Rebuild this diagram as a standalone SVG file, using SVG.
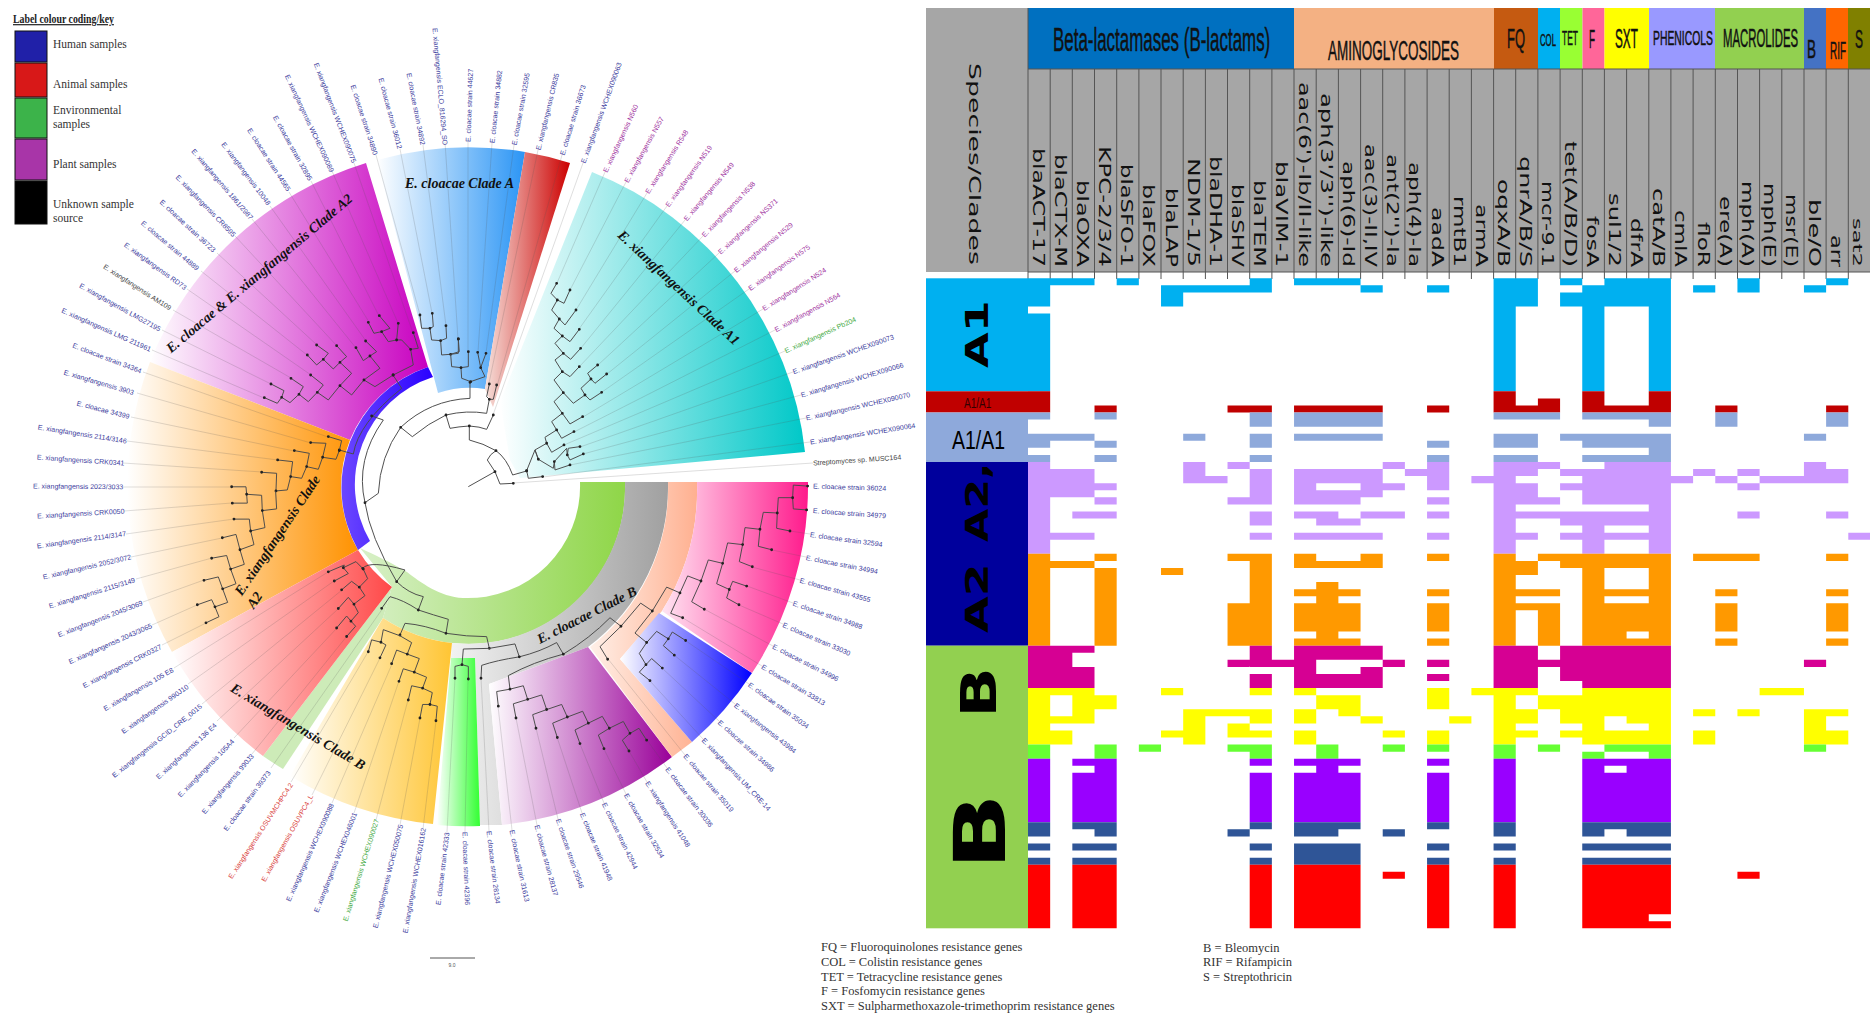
<svg xmlns="http://www.w3.org/2000/svg" width="1870" height="1013" viewBox="0 0 1870 1013">
<style>
.l{font:7px "Liberation Sans",Arial,sans-serif;dominant-baseline:central;fill:#3a3a9c}
.p{fill:#a033a0}.gr{fill:#44aa44}.rd{fill:#d9403a}.k{fill:#444}
.c{font:bold italic 14px "Liberation Serif",serif;dominant-baseline:central;fill:#111}
.t{fill:none;stroke:#4a4a4a;stroke-width:2.9;stroke-linejoin:round}
.d{fill:none;stroke:#222;stroke-width:8.5;stroke-linecap:round}
.lv{fill:none;stroke:#555;stroke-width:.6;opacity:.32}
.lg{font:11.5px "Liberation Serif",serif;fill:#333}
.n{font:12.5px "Liberation Serif",serif;fill:#333}
.h{font-family:"Liberation Sans",sans-serif;fill:#111;stroke:#111;stroke-width:.5}
.g{font:15px "DejaVu Sans",sans-serif;fill:#111}
.b{font:bold 32px "DejaVu Sans",sans-serif;fill:#000}
</style>
<defs>
<linearGradient id="gPur"><stop offset="0" stop-color="#fff"/><stop offset="1" stop-color="#c800c0"/></linearGradient>
<linearGradient id="gOr"><stop offset="0" stop-color="#fff"/><stop offset="1" stop-color="#ff9200"/></linearGradient>
<linearGradient id="gRing"><stop offset="0" stop-color="#6b47ff"/><stop offset="1" stop-color="#2a00ff"/></linearGradient>
<linearGradient id="gRed"><stop offset="0" stop-color="#fff"/><stop offset="1" stop-color="#ff4848"/></linearGradient>
<linearGradient id="gYel"><stop offset="0" stop-color="#fff"/><stop offset="1" stop-color="#ffc533"/></linearGradient>
<linearGradient id="gGrn"><stop offset="0" stop-color="#d8f0c8"/><stop offset="1" stop-color="#8fd648"/></linearGradient>
<linearGradient id="gGry"><stop offset="0" stop-color="#f2f2f2"/><stop offset="1" stop-color="#a0a0a0"/></linearGradient>
<linearGradient id="gPu2"><stop offset="0" stop-color="#fff"/><stop offset="1" stop-color="#990099"/></linearGradient>
<linearGradient id="gSal"><stop offset="0" stop-color="#fff0e8"/><stop offset="1" stop-color="#ffb090"/></linearGradient>
<linearGradient id="gBlu"><stop offset="0" stop-color="#fff"/><stop offset="1" stop-color="#0000ff"/></linearGradient>
<linearGradient id="gPnk"><stop offset="0" stop-color="#ffe4f2"/><stop offset="1" stop-color="#ff1a8c"/></linearGradient>
<linearGradient id="gStr"><stop offset="0" stop-color="#fff"/><stop offset="1" stop-color="#33ff33"/></linearGradient>
<linearGradient id="gCA"><stop offset="0" stop-color="#fff"/><stop offset="1" stop-color="#2b95f5"/></linearGradient>
<linearGradient id="gRd2"><stop offset="0" stop-color="#f6e0da"/><stop offset="1" stop-color="#cc0000"/></linearGradient>
<linearGradient id="gTeal"><stop offset="0" stop-color="#fff"/><stop offset="1" stop-color="#00c8c8"/></linearGradient>
</defs>
<rect width="1870" height="1013" fill="#fff"/>
<g id="key">
<text transform="translate(13,23) scale(.82,1)" font-family="Liberation Serif,serif" font-weight="bold" font-size="12" fill="#222" text-decoration="underline">Label colour coding/key</text>
<g stroke="#111"><rect x="15" y="31" width="32" height="31" fill="#2020a8"/><rect x="15" y="63" width="32" height="34" fill="#d81818"/><rect x="15" y="98" width="32" height="40" fill="#3cb34a"/><rect x="15" y="139" width="32" height="41" fill="#a835a8"/><rect x="15" y="181" width="32" height="43" fill="#000"/></g>
<text class="lg" x="53" y="48">Human samples</text><text class="lg" x="53" y="88">Animal samples</text><text class="lg" x="53" y="114">Environmental</text><text class="lg" x="53" y="128">samples</text><text class="lg" x="53" y="168">Plant samples</text><text class="lg" x="53" y="208">Unknown sample</text><text class="lg" x="53" y="222">source</text>
</g>
<g id="clade-ranges">
<path fill="url(#gGrn)" d="M580,482A112,112 0 0 1 463,598C440,597 420,582 407,572C390,562 375,555 360,548L392,587L383,618A156,156 0 0 0 625,482Z"/>
<path fill="#cdebb8" d="M263,756A340,340 0 0 0 283,769L383,618L392,587Z"/>
<path fill="url(#gGry)" d="M625,482L668,482A200,200 0 0 1 588,647L489,684L502,825L480,825L475,658L451,658L452,643A157,157 0 0 0 625,482Z"/>
<path id="clade-A2-mixed" fill="url(#gPur)" d="M366,163A340,340 0 0 0 150,362L350,440A127,127 0 0 1 428,367Z"/>
<path id="clade-A2" fill="url(#gOr)" d="M150,362A340,340 0 0 0 172,652L358,550A127,127 0 0 1 350,440Z"/>
<path fill="url(#gRing)" d="M428,367A127,127 0 0 0 358,550L370,541A113,113 0 0 1 433,377Z"/>
<path id="clade-xB-red" fill="url(#gRed)" d="M172,652A340,340 0 0 0 263,756L392,587A126,126 0 0 1 358,550Z"/>
<path id="clade-xB-yellow" fill="url(#gYel)" d="M290,776A340,340 0 0 0 433,824L452,643A157,157 0 0 1 383,618Z"/>
<path fill="url(#gStr)" d="M451,658L475,658L480,826A340,340 0 0 1 437,825Z"/>
<path id="clade-cB-purple" fill="url(#gPu2)" d="M588,647L489,684L502,825A340,340 0 0 0 672,757Z"/>
<path fill="url(#gSal)" d="M668,482L697,482A229,229 0 0 1 662,611L620,659L692,742L672,757L590,647A200,200 0 0 0 668,482Z"/>
<path fill="url(#gBlu)" d="M620,659L659,613L752,673A340,340 0 0 1 692,742Z"/>
<path fill="url(#gPnk)" d="M697,482L808,482A340,340 0 0 1 752,673L662,611A229,229 0 0 0 697,482Z"/>
<path id="clade-cA" fill="url(#gCA)" d="M377,160A340,340 0 0 1 525,152L485,389A99,99 0 0 0 438,393Z"/>
<path fill="url(#gRd2)" d="M525,152A340,340 0 0 1 570,163L493,407L485,389Z"/>
<path id="clade-A1" fill="url(#gTeal)" d="M592,172A340,340 0 0 1 805,452L520,478L510,460L500,402Z"/>
</g>
<g id="connectors">
<path class="lv" d="M143,372L328,437M137,393L311,443M131,417L294,451M127,441L278,460M123,463L262,472M123,487L232,487M124,511L232,503M126,534L234,519M131,557L222,538M136,579L212,558M143,602L204,580M152,625L197,605M162,645L206,623M152,350L264,398M162,330L271,384M173,310L291,378M187,289L311,375M201,271L307,355M217,253L317,345M235,236L337,346M252,219L356,348M270,206L366,341M289,192L369,322M311,181L379,316M332,171L398,323M354,163L413,333M376,155L420,315M400,149L432,313M423,145L446,326M445,142L458,339M468,142L468,352M492,143L478,352M514,145L486,353M538,150L489,383M562,155L497,386M583,163L493,415M605,172L557,283M626,182L570,290M647,193L576,310M667,206L579,329M685,220L581,348M703,236L579,367M719,253L598,365M735,271L607,374M749,289L602,392M763,309L583,417M775,330L574,432M785,351L564,445M793,372L580,447M801,395L583,454M806,418L570,465M810,442L543,477M813,463L513,483M810,534L790,531M806,557L772,550M800,580L752,567M793,603L747,586M783,624L739,605M773,646L704,609M762,666L683,618M749,684L686,641M735,704L674,655M719,721L662,668M703,739L650,681M685,755L608,659M667,768L647,740M647,782L629,751M626,794L604,749M604,803L580,744M582,813L557,737M558,819L536,728M537,825L516,718M512,830L498,706M489,831L481,678M465,832L468,679M447,832L455,678M423,829L436,721M400,825L420,718M376,820L408,700M354,813L399,681M332,803L392,664M312,795L380,658M291,782L368,652M271,768L383,608M252,754L347,636M234,738L337,628M217,721L338,609M202,704L342,590M188,684L334,581M174,668L328,572"/>
<g id="tree-centre" transform="translate(330,380) scale(.3333)">
<path class="t" d="M415,320L495,275M495,275L472,240Q480,222 498,212M495,275L510,312L550,310M498,212Q530,235 548,285L590,273M498,212Q460,190 418,180L418,138M418,138Q450,140 470,148L490,105M418,138Q385,140 360,145L348,105M348,105Q410,90 470,100L478,58M478,58L470,50L478,12M478,58L490,58L500,15M348,105Q295,130 247,170L212,142M212,142Q300,60 420,55L420,7M212,142Q150,230 145,340L105,368M105,368Q75,240 160,120L125,108M28,210L70,222Q85,130 215,25L189,-15M105,368Q120,470 200,605M98,565Q120,540 225,570L200,605M200,605Q235,640 280,650L265,690M265,690Q220,660 180,650L155,685M265,690Q310,705 355,718L348,760M348,760Q285,735 225,730L210,765M348,760Q410,770 470,770L478,805"/>
<path class="d" d="M495,275h0M498,212h0M550,310h0M590,273h0M418,138h0M348,105h0M490,105h0M478,58h0M478,12h0M500,15h0M212,142h0M420,7h0M105,368h0M125,108h0M28,210h0M189,-15h0M200,605h0M98,565h0M265,690h0M155,685h0M348,760h0M210,765h0M478,805h0"/>
</g>
<g id="tree-upper-left" transform="scale(.3333)">
<path class="t" d="M985,1310L1025,1322L1018,1352M1018,1352L1008,1378L968,1372M968,1372L978,1330L932,1328M968,1372L955,1408L920,1400M920,1400L928,1360L883,1352M920,1400L905,1435L872,1430M872,1430L878,1385L833,1380M872,1430L862,1470L828,1473M828,1473L830,1420L785,1417M1180,1125L1240,1095L1232,1048M1232,1048L1255,1045L1240,998M1232,1048L1205,1020L1190,1020M1190,1020L1195,970M1190,1020L1165,1025L1145,995M1145,995L1170,985L1138,947M1145,995L1122,1000L1105,967M1180,1125L1125,1160L1092,1140M1092,1140L1140,1105L1110,1068M1110,1068L1130,1055L1097,1023M1110,1068L1090,1082L1068,1043M1092,1140L1055,1185L1020,1157M1020,1157L1055,1120L1020,1087M1020,1087L1040,1070L1010,1037M1020,1087L1000,1107L970,1078M970,1078L985,1060L950,1035M970,1078L950,1095L922,1065M1020,1157L985,1200L952,1177M952,1177L970,1155L932,1125M952,1177L925,1205L897,1183M897,1183L910,1160L873,1135M897,1183L870,1208L845,1192M845,1192L852,1172L813,1152M845,1192L832,1210L793,1193M1352,1063L1378,1055L1375,1017M1352,1063L1325,1065L1322,1022M1322,1022L1340,1015L1338,977M1322,1022L1295,1020L1290,985M1290,985L1300,980L1297,940M1290,985L1265,985L1260,945"/>
<path class="d" d="M985,1310h0M1018,1352h0M968,1372h0M932,1328h0M920,1400h0M883,1352h0M872,1430h0M833,1380h0M828,1473h0M785,1417h0M1180,1125h0M1232,1048h0M1240,998h0M1190,1020h0M1195,970h0M1145,995h0M1138,947h0M1105,967h0M1092,1140h0M1110,1068h0M1097,1023h0M1068,1043h0M1020,1157h0M1020,1087h0M1010,1037h0M970,1078h0M950,1035h0M922,1065h0M952,1177h0M932,1125h0M897,1183h0M873,1135h0M845,1192h0M813,1152h0M793,1193h0M1352,1063h0M1375,1017h0M1322,1022h0M1338,977h0M1290,985h0M1297,940h0M1260,945h0"/>
</g>
<g id="tree-upper-right" transform="translate(450,0) scale(.3333)">
<path class="t" d="M62,1145L105,1130L92,1103M92,1103L108,1060M92,1103L83,1057M62,1145L35,1135L33,1103M33,1103L55,1100L55,1055M33,1103L5,1100L2,1063M2,1063L25,1060L25,1017M230,1412L235,1435L278,1430M230,1412L255,1350L265,1378M265,1378L310,1405L313,1385M313,1385L315,1410L360,1395M313,1385L350,1345L352,1365M352,1365L355,1345L390,1340M352,1365L360,1380L400,1362M265,1378L255,1350L290,1330M290,1330L305,1357L342,1335M290,1330L285,1312L320,1290M320,1290L335,1315L372,1295M320,1290L305,1265L337,1240M337,1240L360,1272L398,1250M337,1240L312,1205L340,1178M340,1178L370,1210L405,1185M405,1185L420,1200L455,1177M405,1185L393,1165L423,1137M423,1137L435,1150L470,1122M423,1137L413,1120L443,1095M340,1178L312,1140L337,1115M337,1115L360,1130L388,1100M337,1115L315,1080L340,1060M340,1060L362,1078L392,1045M340,1060L315,1030L337,1008M337,1008L360,1025L388,988M337,1008L312,985L328,957M328,957L345,975L378,930M328,957L305,930L322,900M322,900L342,910L360,870M322,900L303,880L320,850"/>
<path class="d" d="M62,1145h0M92,1103h0M108,1060h0M83,1057h0M33,1103h0M55,1055h0M25,1017h0M230,1412h0M278,1430h0M265,1378h0M313,1385h0M360,1395h0M352,1365h0M390,1340h0M400,1362h0M290,1330h0M342,1335h0M320,1290h0M372,1295h0M337,1240h0M398,1250h0M340,1178h0M405,1185h0M455,1177h0M423,1137h0M470,1122h0M443,1095h0M337,1115h0M388,1100h0M340,1060h0M392,1045h0M337,1008h0M388,988h0M328,957h0M378,930h0M322,900h0M360,870h0M320,850h0"/>
</g>
<g id="tree-lower-left" transform="translate(0,480) scale(.3333,.3401)">
<path class="t" d="M827,33L830,85L787,90M787,90L785,45L740,42M740,42L738,20L695,20M740,42L742,68L697,68M787,90L795,140L752,150M752,150L748,115L702,115M752,150L762,190L720,205M720,205L708,160L667,170M720,205L733,248L692,262M692,262L680,222L635,230M692,262L708,305L668,320M668,320L655,285L612,295M668,320L683,360L645,373M645,373L635,352L592,367M645,373L657,402L618,420M1090,262L1068,240L1030,258M1030,258L1033,250L985,270M1030,258L1045,275L1003,297M1090,262L1103,290L1078,315M1078,315L1055,298L1025,323M1078,315L1095,340L1062,365M1062,365L1045,345L1015,378M1062,365L1075,390L1053,415M1053,415L1040,400L1010,435M1053,415L1067,430L1040,460M1200,458L1150,440L1143,477M1143,477L1115,470L1105,505M1143,477L1158,485L1140,523M1200,458L1235,478L1222,512M1222,512L1190,500L1175,540M1222,512L1258,525L1243,565M1243,565L1210,555L1197,592M1243,565L1280,580L1268,612M1268,612L1235,605L1225,647M1268,612L1297,625L1290,660M1290,660L1268,660L1260,700M1290,660L1312,665L1308,708"/>
<path class="d" d="M787,90h0M740,42h0M695,20h0M697,68h0M752,150h0M702,115h0M720,205h0M667,170h0M692,262h0M635,230h0M668,320h0M612,295h0M645,373h0M592,367h0M618,420h0M1090,262h0M1030,258h0M985,270h0M1003,297h0M1078,315h0M1025,323h0M1062,365h0M1015,378h0M1053,415h0M1010,435h0M1040,460h0M1143,477h0M1105,505h0M1140,523h0M1222,512h0M1175,540h0M1243,565h0M1197,592h0M1268,612h0M1225,647h0M1290,660h0M1260,700h0M1308,708h0"/>
</g>
<g id="tree-lower-right" transform="translate(450,480) scale(.3333,.3401)">
<path class="t" d="M118,495L40,497L36,543M36,543L15,548L15,583M36,543L55,548L55,585M118,495L195,482L208,520M208,520Q140,530 95,545L93,583M208,520Q270,505 320,478L340,512M340,512Q250,535 175,575L180,615M340,512Q420,465 480,405L513,430M180,615L140,622L145,665M180,615L220,605L233,645M233,645L190,658L198,700M233,645L275,632L290,675M290,675L248,690L258,730M290,675L335,660L352,697M352,697L308,715L322,757M352,697L398,680L415,715M415,715L375,735L390,775M415,715L457,695L478,730M478,730L445,750L462,790M478,730L520,710L540,745M540,745L517,765L537,797M540,745L567,730L590,765M513,430L450,490L473,527M513,430L572,362L607,385M607,385L555,450L590,478M590,478L620,445L655,467M655,467L667,447L707,472M655,467L640,487L673,515M590,478L568,510L588,543M588,543L605,525L637,553M588,543L568,565L600,590M607,385L650,315L690,332M690,332L662,392L698,405M690,332L713,282L753,297M753,297L725,358L763,380M753,297L775,235L818,245M818,245L800,305L838,322M838,322L848,298L890,312M838,322L830,347L867,367M818,245L833,185L878,190M878,190L868,240L907,255M878,190L885,140L930,145M930,145L925,195L965,205M930,145L940,95L982,97M982,97L980,142L1020,150M982,97L985,52L1028,52M1028,52L1030,15L1073,18M1028,52L1030,85L1070,88"/>
<path class="d" d="M36,543h0M15,583h0M55,585h0M208,520h0M93,583h0M340,512h0M180,615h0M513,430h0M145,665h0M233,645h0M198,700h0M290,675h0M258,730h0M352,697h0M322,757h0M415,715h0M390,775h0M478,730h0M462,790h0M540,745h0M537,797h0M590,765h0M473,527h0M607,385h0M590,478h0M655,467h0M707,472h0M673,515h0M588,543h0M637,553h0M600,590h0M690,332h0M698,405h0M753,297h0M763,380h0M818,245h0M838,322h0M890,312h0M867,367h0M878,190h0M907,255h0M930,145h0M965,205h0M982,97h0M1020,150h0M1028,52h0M1073,18h0M1070,88h0"/>
</g>
</g>
<g id="clade-labels">
<text class="c" x="405" y="183">E. cloacae Clade A</text>
<text class="c" transform="translate(620,233) rotate(43)">E. xiangfangensis Clade A1</text>
<text class="c" transform="translate(168,350) rotate(-40)">E. cloacae &amp; E. xiangfangensis Clade A2</text>
<text class="c" transform="translate(238,594) rotate(-56)">E. xiangfangensis Clade</text>
<text class="c" transform="translate(250,607) rotate(-56)">A2</text>
<text class="c" transform="translate(232,687) rotate(31)">E. xiangfangensis Clade B</text>
<text class="c" transform="translate(538,640) rotate(-27)">E. cloacae Clade B</text>
</g>
<g id="leaf-labels">
<text class="l" transform="translate(435,28) rotate(85)">E. xiangfangensis ECLO_816294_SO</text>
<text class="l" transform="translate(409,73) rotate(79)">E. cloacae strain 34892</text>
<text class="l" transform="translate(381,78) rotate(75)">E. cloacae strain 36012</text>
<text class="l" transform="translate(353,85) rotate(72)">E. cloacae strain 34890</text>
<text class="l" transform="translate(316,63) rotate(69)">E. xiangfangensis WCHEX090075</text>
<text class="l" transform="translate(287,75) rotate(65)">E. xiangfangensis WCHEX090089</text>
<text class="l" transform="translate(275,116) rotate(61)">E. cloacae strain 32895</text>
<text class="l" transform="translate(249,129) rotate(57)">E. cloacae strain 44565</text>
<text class="l" transform="translate(223,143) rotate(53)">E. xiangfangensis 10048</text>
<text class="l" transform="translate(193,150) rotate(49.5)">E. xiangfangensis 1861/2987</text>
<text class="l" transform="translate(177,176) rotate(46)">E. xiangfangensis CR8595</text>
<text class="l" transform="translate(161,201) rotate(43)">E. cloacae strain 36723</text>
<text class="l" transform="translate(142,222) rotate(40)">E. cloacae strain 44889</text>
<text class="l" transform="translate(125,244) rotate(36)">E. xiangfangensis RD73</text>
<text class="l k" transform="translate(104,266) rotate(32.5)">E. xiangfangensis AM109</text>
<text class="l" transform="translate(80,285) rotate(29)">E. xiangfangensis LMG27195</text>
<text class="l" transform="translate(62,310) rotate(24)">E. xiangfangensis LMG 211961</text>
<text class="l" transform="translate(73,345) rotate(21)">E. cloacae strain 34364</text>
<text class="l" transform="translate(64,372) rotate(16.5)">E. xiangfangensis 3903</text>
<text class="l" transform="translate(77,403) rotate(14.5)">E. cloacae 34399</text>
<text class="l" transform="translate(38,427) rotate(9)">E. xiangfangensis 2114/3146</text>
<text class="l" transform="translate(37,457) rotate(4)">E. xiangfangensis CRK0341</text>
<text class="l" transform="translate(33,486) rotate(.5)">E. xiangfangensis 2023/3033</text>
<text class="l" transform="translate(37,516) rotate(-3.3)">E. xiangfangensis CRK0050</text>
<text class="l" transform="translate(37,546) rotate(-8)">E. xiangfangensis 2114/3147</text>
<text class="l" transform="translate(43,577) rotate(-13)">E. xiangfangensis 2052/3072</text>
<text class="l" transform="translate(49,606) rotate(-17)">E. xiangfangensis 2115/3149</text>
<text class="l" transform="translate(58,635) rotate(-21)">E. xiangfangensis 2045/3069</text>
<text class="l" transform="translate(69,662) rotate(-24)">E. xiangfangensis 2043/3065</text>
<text class="l" transform="translate(83,686) rotate(-27)">E. xiangfangensis CRK0327</text>
<text class="l" transform="translate(104,709) rotate(-30)">E. xiangfangensis 105 E8</text>
<text class="l" transform="translate(122,732) rotate(-35)">E. xiangfangensis 990J10</text>
<text class="l" transform="translate(113,776) rotate(-38.7)">E. xiangfangensis GCID_CRE_0015</text>
<text class="l" transform="translate(157,778) rotate(-42.5)">E. xiangfangensis 136 E4</text>
<text class="l" transform="translate(179,796) rotate(-46)">E. xiangfangensis 105A4</text>
<text class="l" transform="translate(203,813) rotate(-49.7)">E. xiangfangensis 990J3</text>
<text class="l" transform="translate(225,830) rotate(-53)">E. cloacae strain 39373</text>
<text class="l rd" transform="translate(230,878) rotate(-57)">E. xiangfangensis OSUVMCHPC4.2</text>
<text class="l rd" transform="translate(263,881) rotate(-60.6)">E. xiangfangensis OSUVPC4_L</text>
<text class="l" transform="translate(288,901) rotate(-65.7)">E. xiangfangensis WCHEX090088</text>
<text class="l" transform="translate(316,912) rotate(-68.6)">E. xiangfangensis WCHEX046001</text>
<text class="l gr" transform="translate(345,921) rotate(-72.7)">E. xiangfangensis WCHEX090027</text>
<text class="l" transform="translate(375,928) rotate(-76)">E. xiangfangensis WCHEX050075</text>
<text class="l" transform="translate(405,933) rotate(-80)">E. xiangfangensis WCHEX016162</text>
<text class="l" transform="translate(438,905) rotate(-83)">E. cloacae strain 42333</text>
<text class="l" transform="translate(465,832) rotate(88)">E. cloacae strain 42396</text>
<text class="l" transform="translate(489,831) rotate(83)">E. cloacae strain 28134</text>
<text class="l" transform="translate(512,830) rotate(78)">E. cloacae strain 31613</text>
<text class="l" transform="translate(537,825) rotate(75)">E. cloacae strain 28137</text>
<text class="l" transform="translate(558,819) rotate(71)">E. cloacae strain 29546</text>
<text class="l" transform="translate(582,813) rotate(67)">E. cloacae strain 41948</text>
<text class="l" transform="translate(604,803) rotate(64)">E. cloacae strain 42944</text>
<text class="l" transform="translate(626,794) rotate(60)">E. cloacae strain 32534</text>
<text class="l" transform="translate(647,782) rotate(57)">E. xiangfangensis 41048</text>
<text class="l" transform="translate(667,768) rotate(52.7)">E. cloacae strain 30036</text>
<text class="l" transform="translate(685,755) rotate(49.7)">E. cloacae strain 35019</text>
<text class="l" transform="translate(703,739) rotate(46.7)">E. xiangfangensis UM_CRE-14</text>
<text class="l" transform="translate(719,721.5) rotate(42)">E. cloacae strain 34986</text>
<text class="l" transform="translate(735,704.5) rotate(38)">E. xiangfangensis 43984</text>
<text class="l" transform="translate(749,684) rotate(36)">E. cloacae strain 35034</text>
<text class="l" transform="translate(762,666) rotate(31)">E. cloacae strain 33813</text>
<text class="l" transform="translate(773,646) rotate(27)">E. cloacae strain 34996</text>
<text class="l" transform="translate(783,624.5) rotate(23.5)">E. cloacae strain 33030</text>
<text class="l" transform="translate(793,603) rotate(19)">E. cloacae strain 34988</text>
<text class="l" transform="translate(800,580) rotate(15.8)">E. cloacae strain 43555</text>
<text class="l" transform="translate(806,557.5) rotate(11)">E. cloacae strain 34994</text>
<text class="l" transform="translate(810,534.5) rotate(7.8)">E. cloacae strain 32594</text>
<text class="l" transform="translate(813,510.6) rotate(4)">E. cloacae strain 34979</text>
<text class="l" transform="translate(813,486) rotate(1.8)">E. cloacae strain 36024</text>
<text class="l k" transform="translate(813,463) rotate(-3.9)">Streptomyces sp. MUSC164</text>
<text class="l" transform="translate(810,442) rotate(-9)">E. xiangfangensis WCHEX090064</text>
<text class="l" transform="translate(806,418) rotate(-12.7)">E. xiangfangensis WCHEX090070</text>
<text class="l" transform="translate(801,395) rotate(-16.5)">E. xiangfangensis WCHEX090066</text>
<text class="l" transform="translate(793,372) rotate(-19.4)">E. xiangfangensis WCHEX090073</text>
<text class="l gr" transform="translate(785,351) rotate(-24.5)">E. xiangfangensis Pb204</text>
<text class="l p" transform="translate(775,330) rotate(-28.8)">E. xiangfangensis N564</text>
<text class="l p" transform="translate(763,309) rotate(-32.4)">E. xiangfangensis N524</text>
<text class="l p" transform="translate(749,289) rotate(-35.4)">E. xiangfangensis N575</text>
<text class="l p" transform="translate(735,271) rotate(-39.7)">E. xiangfangensis N529</text>
<text class="l p" transform="translate(719,253) rotate(-42.7)">E. xiangfangensis NS371</text>
<text class="l p" transform="translate(703,236) rotate(-46.4)">E. xiangfangensis N538</text>
<text class="l p" transform="translate(685,220) rotate(-50)">E. xiangfangensis N549</text>
<text class="l p" transform="translate(667,206) rotate(-54)">E. xiangfangensis N519</text>
<text class="l p" transform="translate(647,193) rotate(-57.7)">E. xiangfangensis R548</text>
<text class="l p" transform="translate(626,182) rotate(-61)">E. xiangfangensis N557</text>
<text class="l p" transform="translate(605,172) rotate(-65)">E. xiangfangensis N560</text>
<text class="l" transform="translate(583,163) rotate(-70)">E. xiangfangensis WCHEX090063</text>
<text class="l" transform="translate(562,155) rotate(-73)">E. cloacae strain 36673</text>
<text class="l" transform="translate(538,150) rotate(-76.3)">E. xiangfangensis CR835</text>
<text class="l" transform="translate(514,145) rotate(-79.5)">E. cloacae strain 32595</text>
<text class="l" transform="translate(492,143) rotate(-84)">E. cloacae strain 34882</text>
<text class="l" transform="translate(468,142) rotate(-88)">E. cloacae strain 44627</text>
</g>
<g id="scale-bar"><path d="M430,958H475" stroke="#555" fill="none"/><text x="452" y="967" text-anchor="middle" font-family="Liberation Sans,sans-serif" font-size="5" fill="#555">9.0</text></g>
<g id="table-header">
<rect x="926" y="8" width="102" height="264" fill="#a6a6a6"/>
<rect x="1028" y="69" width="842" height="203" fill="#a6a6a6"/>
<rect x="1028" y="8" width="266" height="61" fill="#0070c0"/>
<rect x="1294" y="8" width="200" height="61" fill="#f4b183"/>
<rect x="1494" y="8" width="44" height="61" fill="#c55a11"/>
<rect x="1538" y="8" width="22" height="61" fill="#00b0f0"/>
<rect x="1560" y="8" width="22.5" height="61" fill="#99ff33"/>
<rect x="1582.5" y="8" width="22" height="61" fill="#ff6699"/>
<rect x="1604.5" y="8" width="44.5" height="61" fill="#ffff00"/>
<rect x="1649" y="8" width="66" height="61" fill="#9999ff"/>
<rect x="1715" y="8" width="89" height="61" fill="#92d050"/>
<rect x="1804" y="8" width="22" height="61" fill="#4472c4"/>
<rect x="1826" y="8" width="22" height="61" fill="#ff6600"/>
<rect x="1848" y="8" width="22" height="61" fill="#808000"/>
<path fill="none" stroke="#555" d="M1028,8V279M1050.2,69V279M1072.3,69V279M1094.5,69V279M1116.7,69V279M1138.9,69V279M1161,69V279M1183.2,69V279M1205.4,69V279M1227.5,69V279M1249.7,69V279M1271.9,69V279M1294,69V279M1316.2,69V279M1338.4,69V279M1360.6,69V279M1382.7,69V279M1404.9,69V279M1427.1,69V279M1449.2,69V279M1471.4,69V279M1493.6,69V279M1515.7,69V279M1537.9,69V279M1560.1,69V279M1582.3,69V279M1604.4,69V279M1626.6,69V279M1648.8,69V279M1670.9,69V279M1693.1,69V279M1715.3,69V279M1737.5,69V279M1759.6,69V279M1781.8,69V279M1804,69V279M1826.1,69V279M1848.3,69V279M1028,69H1870M1028,272H1870"/>
<text class="h" font-size="33" transform="translate(1053,51) scale(.513,1)">Beta-lactamases (B-lactams)</text>
<text class="h" font-size="28" transform="translate(1328,60) scale(.482,1)">AMINOGLYCOSIDES</text>
<text class="h" font-size="28" transform="translate(1507,48) scale(.463,1)">FQ</text>
<text class="h" font-size="17" transform="translate(1540,45.5) scale(.457,1)">COL</text>
<text class="h" font-size="20" transform="translate(1562,45) scale(.423,1)">TET</text>
<text class="h" font-size="26" transform="translate(1589,48) scale(.38,1)">F</text>
<text class="h" font-size="28" transform="translate(1615,48) scale(.42,1)">SXT</text>
<text class="h" font-size="20" transform="translate(1653,45) scale(.52,1)">PHENICOLS</text>
<text class="h" font-size="25" transform="translate(1723,46.5) scale(.454,1)">MACROLIDES</text>
<text class="h" font-size="25" transform="translate(1807,58) scale(.54,1)">B</text>
<text class="h" font-size="23" transform="translate(1830,59) scale(.43,1)">RIF</text>
<text class="h" font-size="26" transform="translate(1855,48) scale(.46,1)">S</text>
<text class="g" style="font-size:16px" transform="translate(969,63) rotate(90)" textLength="202" lengthAdjust="spacingAndGlyphs">Species/Clades</text>
<text class="g" transform="translate(1032.5,148) rotate(90)" textLength="119" lengthAdjust="spacingAndGlyphs">blaACT-17</text>
<text class="g" transform="translate(1054.7,154) rotate(90)" textLength="113" lengthAdjust="spacingAndGlyphs">blaCTX-M</text>
<text class="g" transform="translate(1076.8,180) rotate(90)" textLength="87" lengthAdjust="spacingAndGlyphs">blaOXA</text>
<text class="g" transform="translate(1099,146) rotate(90)" textLength="121" lengthAdjust="spacingAndGlyphs">KPC-2/3/4</text>
<text class="g" transform="translate(1121.2,164) rotate(90)" textLength="103" lengthAdjust="spacingAndGlyphs">blaSFO-1</text>
<text class="g" transform="translate(1143.4,184) rotate(90)" textLength="83" lengthAdjust="spacingAndGlyphs">blaFOX</text>
<text class="g" transform="translate(1165.5,188) rotate(90)" textLength="79" lengthAdjust="spacingAndGlyphs">blaLAP</text>
<text class="g" transform="translate(1187.7,158) rotate(90)" textLength="109" lengthAdjust="spacingAndGlyphs">NDM-1/5</text>
<text class="g" transform="translate(1209.9,156) rotate(90)" textLength="111" lengthAdjust="spacingAndGlyphs">blaDHA-1</text>
<text class="g" transform="translate(1232,184) rotate(90)" textLength="83" lengthAdjust="spacingAndGlyphs">blaSHV</text>
<text class="g" transform="translate(1254.2,180) rotate(90)" textLength="87" lengthAdjust="spacingAndGlyphs">blaTEM</text>
<text class="g" transform="translate(1276.4,161) rotate(90)" textLength="106" lengthAdjust="spacingAndGlyphs">blaVIM-1</text>
<text class="g" transform="translate(1298.5,82) rotate(90)" textLength="185" lengthAdjust="spacingAndGlyphs">aac(6')-Ib/II-like</text>
<text class="g" transform="translate(1320.7,93) rotate(90)" textLength="174" lengthAdjust="spacingAndGlyphs">aph(3'/3'')-like</text>
<text class="g" transform="translate(1342.9,161) rotate(90)" textLength="106" lengthAdjust="spacingAndGlyphs">aph(6)-Id</text>
<text class="g" transform="translate(1365,144) rotate(90)" textLength="123" lengthAdjust="spacingAndGlyphs">aac(3)-II,IV</text>
<text class="g" transform="translate(1387.2,154) rotate(90)" textLength="113" lengthAdjust="spacingAndGlyphs">ant(2'')-Ia</text>
<text class="g" transform="translate(1409.4,162) rotate(90)" textLength="105" lengthAdjust="spacingAndGlyphs">aph(4)-Ia</text>
<text class="g" transform="translate(1431.6,207) rotate(90)" textLength="60" lengthAdjust="spacingAndGlyphs">aadA</text>
<text class="g" transform="translate(1453.7,196) rotate(90)" textLength="71" lengthAdjust="spacingAndGlyphs">rmtB1</text>
<text class="g" transform="translate(1475.9,204) rotate(90)" textLength="63" lengthAdjust="spacingAndGlyphs">armA</text>
<text class="g" transform="translate(1498.1,179) rotate(90)" textLength="88" lengthAdjust="spacingAndGlyphs">oqxA/B</text>
<text class="g" transform="translate(1520.2,156) rotate(90)" textLength="111" lengthAdjust="spacingAndGlyphs">qnrA/B/S</text>
<text class="g" transform="translate(1542.4,181) rotate(90)" textLength="86" lengthAdjust="spacingAndGlyphs">mcr-9.1</text>
<text class="g" transform="translate(1564.6,141) rotate(90)" textLength="126" lengthAdjust="spacingAndGlyphs">tet(A/B/D)</text>
<text class="g" transform="translate(1586.8,216) rotate(90)" textLength="51" lengthAdjust="spacingAndGlyphs">fosA</text>
<text class="g" transform="translate(1608.9,193) rotate(90)" textLength="74" lengthAdjust="spacingAndGlyphs">sul1/2</text>
<text class="g" transform="translate(1631.1,218) rotate(90)" textLength="49" lengthAdjust="spacingAndGlyphs">dfrA</text>
<text class="g" transform="translate(1653.3,188) rotate(90)" textLength="79" lengthAdjust="spacingAndGlyphs">catA/B</text>
<text class="g" transform="translate(1675.4,210) rotate(90)" textLength="57" lengthAdjust="spacingAndGlyphs">cmlA</text>
<text class="g" transform="translate(1697.6,222) rotate(90)" textLength="45" lengthAdjust="spacingAndGlyphs">floR</text>
<text class="g" transform="translate(1719.8,196) rotate(90)" textLength="71" lengthAdjust="spacingAndGlyphs">ere(A)</text>
<text class="g" transform="translate(1741.9,181) rotate(90)" textLength="86" lengthAdjust="spacingAndGlyphs">mph(A)</text>
<text class="g" transform="translate(1764.1,183) rotate(90)" textLength="84" lengthAdjust="spacingAndGlyphs">mph(E)</text>
<text class="g" transform="translate(1786.3,194) rotate(90)" textLength="73" lengthAdjust="spacingAndGlyphs">msr(E)</text>
<text class="g" transform="translate(1808.5,199) rotate(90)" textLength="68" lengthAdjust="spacingAndGlyphs">ble/O</text>
<text class="g" transform="translate(1830.6,235) rotate(90)" textLength="32" lengthAdjust="spacingAndGlyphs">arr</text>
<text class="g" style="font-size:12px" transform="translate(1852.8,218) rotate(90)" textLength="49" lengthAdjust="spacingAndGlyphs">sat2</text>
</g>
<g id="clade-bars">
<rect x="926" y="278.3" width="102" height="113" fill="#00b0f0"/>
<rect x="926" y="391.3" width="102" height="21.2" fill="#c00000"/>
<rect x="926" y="412.5" width="102" height="49.5" fill="#8ea9db"/>
<rect x="926" y="462" width="102" height="183.7" fill="#00009c"/>
<rect x="926" y="645.7" width="102" height="282.6" fill="#92d050"/>
<text class="b" transform="translate(988,368) rotate(-90) scale(1.44,1)">A1</text>
<text font-family="Liberation Sans,sans-serif" font-size="14" fill="#300" transform="translate(964,408) scale(.72,1)">A1/A1</text>
<text font-family="Liberation Sans,sans-serif" font-size="26" fill="#000" transform="translate(952,449) scale(.75,1)">A1/A1</text>
<text class="b" transform="translate(988,542) rotate(-90) scale(1.34,1)">A2,</text>
<text class="b" transform="translate(988,633) rotate(-90) scale(1.48,1)">A2</text>
<text class="b" style="font-size:50px" transform="translate(996,718) rotate(-90) scale(1.34,1)">B</text>
<text class="b" style="font-size:72px" transform="translate(1005,870) rotate(-90) scale(1.4,1)">B</text>
</g>
<g id="heatmap" transform="translate(1028,278.3) scale(22.17,7.065)">
<path fill="#00b0f0" d="M0 0h1v4h-1zM0 5h1v11h-1zM1 0h2v1h-2zM4 0h1v1h-1zM10 0h1v2h-1zM12 0h3v1h-3zM6 1h3v1h-3zM9 1h1v1h-1zM15 1h1v1h-1zM18 1h1v1h-1zM30 1h1v1h-1zM35 1h1v1h-1zM6 2h1v2h-1zM21 0h2v4h-2zM21 4h1v12h-1zM24 0h1v1h-1zM24 2h1v2h-1zM26 0h3v1h-3zM25 1h4v3h-4zM25 4h1v12h-1zM28 4h1v12h-1zM32 0h1v2h-1zM36 0h1v1h-1z"/>
<path fill="#c00000" d="M0 16h1v3h-1zM3 18h1v1h-1zM9 18h2v1h-2zM12 18h4v1h-4zM18 18h1v1h-1zM21 16h1v3h-1zM22 18h1v1h-1zM23 17h1v2h-1zM25 16h1v3h-1zM26 18h2v1h-2zM28 16h1v3h-1zM31 18h1v1h-1zM36 18h1v1h-1z"/>
<path fill="#8ea9db" d="M0 19h1v1h-1zM0 22h1v2h-1zM0 25h1v1h-1zM1 22h2v1h-2zM3 19h1v1h-1zM3 23h1v1h-1zM3 25h1v1h-1zM7 22h1v1h-1zM10 19h1v2h-1zM10 22h1v2h-1zM10 25h1v1h-1zM12 19h4v2h-4zM12 22h4v1h-4zM18 23h1v1h-1zM18 25h1v1h-1zM21 19h3v1h-3zM21 22h2v2h-2zM21 25h2v1h-2zM24 22h1v1h-1zM25 19h4v1h-4zM28 20h1v1h-1zM25 22h4v2h-4zM28 24h1v1h-1zM25 25h4v1h-4zM31 19h1v2h-1zM36 19h1v2h-1zM35 22h1v1h-1z"/>
<path fill="#cc99ff" d="M0 26h1v13h-1zM1 27h2v4h-2zM3 29h1v1h-1zM3 31h1v1h-1zM2 33h2v1h-2zM1 36h2v1h-2zM7 26h1v3h-1zM8 28h1v1h-1zM9 26h1v1h-1zM9 31h1v1h-1zM10 27h1v5h-1zM10 33h1v2h-1zM10 36h1v1h-1zM12 27h4v2h-4zM12 29h1v1h-1zM15 29h1v1h-1zM12 30h4v1h-4zM12 31h3v1h-3zM12 33h2v1h-2zM15 33h2v1h-2zM13 34h2v1h-2zM12 36h4v1h-4zM16 26h1v1h-1zM16 29h1v1h-1zM17 27h1v1h-1zM18 26h1v4h-1zM18 31h1v1h-1zM18 33h1v1h-1zM18 36h1v1h-1zM20 28h1v1h-1zM21 26h1v13h-1zM22 26h1v2h-1zM22 29h1v3h-1zM22 33h1v1h-1zM22 36h1v1h-1zM23 26h1v1h-1zM23 31h1v1h-1zM23 33h1v1h-1zM24 27h1v1h-1zM24 29h1v1h-1zM24 33h1v2h-1zM24 36h1v1h-1zM25 27h1v5h-1zM25 33h1v6h-1zM26 26h2v6h-2zM26 33h2v2h-2zM26 36h2v1h-2zM28 26h1v13h-1zM29 28h1v1h-1zM30 27h1v1h-1zM31 28h1v1h-1zM32 27h1v1h-1zM32 29h1v1h-1zM32 33h1v1h-1zM33 28h2v1h-2zM35 26h1v3h-1zM36 27h1v2h-1zM36 33h1v1h-1zM37 36h1v1h-1z"/>
<path fill="#ff9900" d="M0 39h1v13h-1zM1 40h2v1h-2zM3 39h1v1h-1zM3 41h1v11h-1zM6 41h1v1h-1zM9 39h1v1h-1zM9 46h1v6h-1zM10 39h1v13h-1zM12 39h1v1h-1zM15 39h1v1h-1zM12 40h4v1h-4zM13 43h1v9h-1zM12 44h1v1h-1zM14 44h1v1h-1zM12 46h1v4h-1zM14 46h1v4h-1zM12 51h1v1h-1zM14 51h1v1h-1zM18 39h1v1h-1zM18 44h1v1h-1zM18 46h1v4h-1zM18 51h1v1h-1zM21 39h1v13h-1zM22 40h1v2h-1zM22 44h2v1h-2zM22 46h1v1h-1zM23 39h2v1h-2zM23 46h1v6h-1zM24 40h1v1h-1zM25 39h1v13h-1zM26 39h2v2h-2zM26 44h2v1h-2zM26 46h2v4h-2zM26 50h1v1h-1zM26 51h2v1h-2zM28 39h1v13h-1zM30 39h3v1h-3zM31 44h1v1h-1zM31 46h1v4h-1zM31 51h1v1h-1zM36 39h1v1h-1zM36 44h1v1h-1zM36 46h1v4h-1zM36 51h1v1h-1z"/>
<path fill="#d60093" d="M0 52h2v6h-2zM2 52h1v1h-1zM2 55h1v3h-1zM9 54h1v1h-1zM10 52h1v3h-1zM10 56h1v2h-1zM11 54h1v1h-1zM12 52h1v6h-1zM13 52h2v2h-2zM13 56h2v2h-2zM15 52h1v2h-1zM15 55h1v3h-1zM16 54h1v1h-1zM18 54h1v1h-1zM18 56h1v1h-1zM21 52h2v6h-2zM23 54h1v1h-1zM24 52h1v5h-1zM25 52h4v6h-4zM35 54h1v1h-1z"/>
<path fill="#ffff00" d="M0 58h1v8h-1zM1 58h1v1h-1zM1 62h1v1h-1zM1 64h1v2h-1zM2 58h1v5h-1zM3 59h1v2h-1zM6 58h1v1h-1zM6 64h1v1h-1zM7 61h1v5h-1zM8 61h2v1h-2zM9 63h1v2h-1zM10 58h1v1h-1zM10 61h1v2h-1zM10 64h1v1h-1zM12 58h1v1h-1zM12 61h1v2h-1zM12 64h1v2h-1zM13 59h2v2h-2zM14 61h1v1h-1zM15 62h1v1h-1zM16 64h1v1h-1zM18 58h1v3h-1zM18 64h1v2h-1zM19 62h1v1h-1zM20 58h1v1h-1zM21 58h1v8h-1zM22 58h1v1h-1zM22 61h1v2h-1zM22 64h1v1h-1zM23 59h2v2h-2zM24 61h1v2h-1zM24 64h1v1h-1zM25 58h1v8h-1zM26 58h1v4h-1zM26 64h1v2h-1zM27 58h1v5h-1zM27 64h1v2h-1zM28 58h1v8h-1zM30 61h1v1h-1zM30 64h1v2h-1zM32 61h1v1h-1zM33 58h2v1h-2zM35 61h1v5h-1zM36 61h1v1h-1zM36 64h1v2h-1z"/>
<path fill="#66ff33" d="M0 66h1v2h-1zM3 66h1v2h-1zM5 66h1v1h-1zM9 66h1v1h-1zM10 66h1v2h-1zM13 66h1v2h-1zM16 66h1v1h-1zM18 66h1v1h-1zM21 66h1v2h-1zM23 66h1v1h-1zM25 67h1v1h-1zM26 66h2v1h-2zM28 66h1v2h-1zM35 66h1v1h-1z"/>
<path fill="#9900ff" d="M0 68h1v9h-1zM2 68h1v1h-1zM2 70h1v7h-1zM3 68h1v9h-1zM10 68h1v1h-1zM10 70h1v7h-1zM12 68h1v1h-1zM12 70h1v7h-1zM13 68h1v9h-1zM14 68h1v1h-1zM14 70h1v7h-1zM18 68h1v1h-1zM18 70h1v7h-1zM21 68h1v9h-1zM25 68h1v9h-1zM26 68h1v1h-1zM26 70h1v7h-1zM27 68h2v9h-2z"/>
<path fill="#2f5597" d="M0 77h1v2h-1zM0 80h1v1h-1zM0 82h1v1h-1zM2 77h1v1h-1zM2 80h1v1h-1zM2 82h1v1h-1zM3 77h1v2h-1zM3 80h1v1h-1zM3 82h1v1h-1zM9 78h1v1h-1zM10 77h1v1h-1zM10 80h1v1h-1zM10 82h1v1h-1zM12 77h2v2h-2zM14 77h1v1h-1zM12 80h3v3h-3zM16 78h1v1h-1zM18 77h1v1h-1zM18 80h1v1h-1zM18 82h1v1h-1zM21 77h1v2h-1zM21 80h1v1h-1zM21 82h1v1h-1zM25 77h1v2h-1zM26 77h1v1h-1zM27 77h2v2h-2zM25 80h4v1h-4zM25 82h4v1h-4z"/>
<path fill="#ff0000" d="M0 83h1v9h-1zM2 83h2v9h-2zM10 83h1v9h-1zM12 83h3v9h-3zM16 84h1v1h-1zM18 83h1v9h-1zM21 83h1v9h-1zM25 83h4v7h-4zM25 90h3v2h-3zM28 91h1v1h-1zM32 84h1v1h-1z"/>
</g>
<g id="notes">
<text class="n" x="821" y="951">FQ = Fluoroquinolones resistance genes</text>
<text class="n" x="821" y="966">COL = Colistin resistance genes</text>
<text class="n" x="821" y="981">TET = Tetracycline resistance genes</text>
<text class="n" x="821" y="995">F = Fosfomycin resistance genes</text>
<text class="n" x="821" y="1010">SXT = Sulpharmethoxazole-trimethoprim resistance genes</text>
<text class="n" x="1203" y="952">B = Bleomycin</text>
<text class="n" x="1203" y="966">RIF = Rifampicin</text>
<text class="n" x="1203" y="981">S = Streptothricin</text>
</g>
</svg>
